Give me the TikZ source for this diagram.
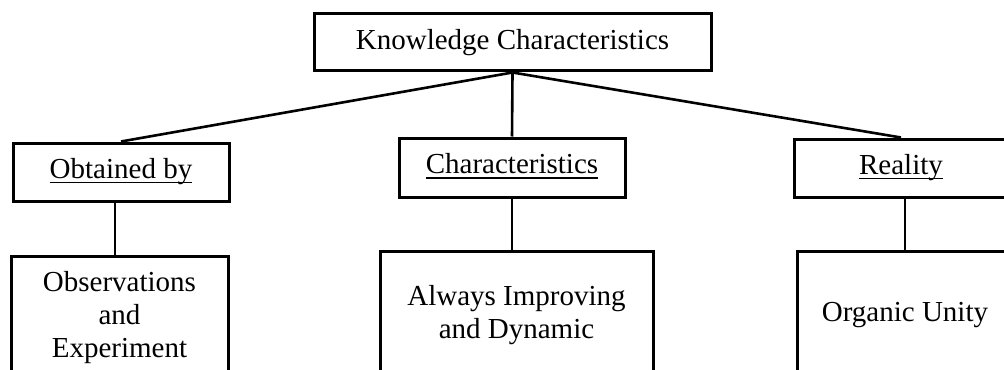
\documentclass[tikz,border=0pt]{standalone}
\usepackage{fontspec}
\setmainfont{Liberation Serif}
% underline drawn at a fixed depth below the baseline
\newcommand\headul[1]{\setbox0=\hbox{#1}\leavevmode\rlap{\rule[-2.6pt]{\wd0}{0.65pt}}\box0}
\begin{document}
\begin{tikzpicture}[x=0.5pt,y=-0.5pt,
  box/.style={draw=black,line width=1.5pt,fill=white,inner sep=0pt,align=center,
    font=\fontsize{14.5}{16.5}\selectfont},
  head/.style={box,text height=10pt,text depth=4pt},
  link/.style={draw=black,line width=1.3pt}]
  \useasboundingbox (0,0) rectangle (1004,369);
  \clip (0,0) rectangle (1004,369);
  \fill[white] (0,0) rectangle (1004,369);

  % root
  \node[box,minimum width=198.5pt,minimum height=28.5pt] (top) at (512.5,42.5) {Knowledge Characteristics};

  % second level
  \node[head,minimum width=108pt,minimum height=29pt] (ob) at (121,172) {\headul{Obtained by}};
  \node[head,minimum width=113pt,minimum height=29.5pt] (ch) at (512,167.5) {\headul{Characteristics}};
  \node[head,minimum width=107pt,minimum height=29pt] (re) at (901,168) {\headul{Reality}};

  % third level
  \node[box,minimum width=108.5pt,minimum height=62pt] (obs) at (119.5,318) {Observations\\and\\Experiment};
  \node[box,minimum width=136.5pt,minimum height=64pt] (al) at (516.5,315) {Always Improving\\and Dynamic};
  \node[box,minimum width=108pt,minimum height=64pt] (org) at (905,315) {Organic Unity};

  % connectors
  \draw[link] (top.south) -- (ob.north);
  \draw[link] (top.south) -- (ch.north);
  \draw[link] (top.south) -- (re.north);
  \draw[link] ([xshift=-3pt]ob.south) -- ([xshift=-3pt]ob.south |- obs.north);
  \draw[link] (ch.south) -- (ch.south |- al.north);
  \draw[link] (org.north |- re.south) -- (org.north);
\end{tikzpicture}
\end{document}
